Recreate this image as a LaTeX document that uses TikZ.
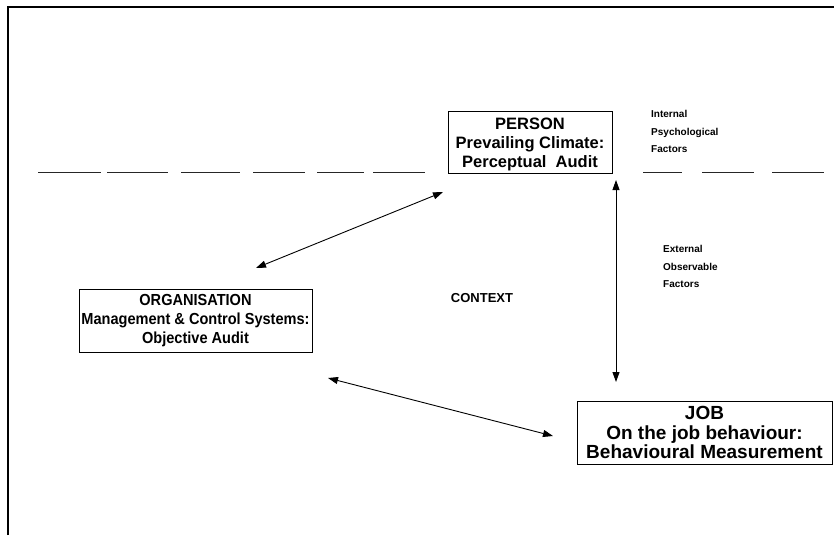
\documentclass[tikz,border=0pt]{standalone}
\usepackage{fontspec}
\setmainfont{Liberation Sans}
\usetikzlibrary{arrows.meta,shadows}
\newcommand{\lowerby}[2]{\raisebox{-#1}[\height][\depth]{#2}}
\begin{document}
\begin{tikzpicture}[x=1pt,y=-1pt,
  box/.style={draw,line width=0.9pt,fill=white,align=center,inner sep=0pt,
    drop shadow={shadow xshift=1.2pt,shadow yshift=-1.2pt,fill=black!35,opacity=1}},
  small/.style={font=\fontsize{10}{17.5}\selectfont\bfseries,align=left,anchor=north west,inner sep=0pt},
  dashseg/.style={line width=0.8pt,black!85},
  dbl/.style={line width=0.9pt,{Triangle[length=10pt,width=7pt]}-{Triangle[length=10pt,width=7pt]}},
  frame/.style={line width=1.5pt}]
\useasboundingbox (0,0) rectangle (834,535);
% frame
\coordinate (f1) at (8,535);
\coordinate (f2) at (8,7);
\coordinate (f3) at (834,7);
\draw[frame] (f1) -- (f2) -- (f3);
% dashed boundary
\foreach \a/\b in {38/101,107/168,181/240,253/305,317/364,373/425,643/682,702/754,772/824}
  \draw[dashseg] (\a,172) -- (\b,172);
% boxes
\node[box,minimum width=164pt,minimum height=62pt,font=\fontsize{16.5}{19}\selectfont\bfseries] (person) at (530,142)
  {\lowerby{3pt}{\begin{tabular}{@{}c@{}}PERSON\\Prevailing Climate:\\Perceptual\ \ Audit\end{tabular}}};
\node[box,minimum width=233pt,minimum height=63pt,font=\fontsize{16}{19}\selectfont\bfseries] (org) at (195.5,320.5)
  {\scalebox{0.91}[1]{\begin{tabular}{@{}c@{}}ORGANISATION\\Management \& Control Systems:\\Objective Audit\end{tabular}}};
\node[box,minimum width=255pt,minimum height=63pt,font=\fontsize{19}{19.3}\selectfont\bfseries] (job) at (704.5,432.5)
  {JOB\\On the job behaviour:\\Behavioural Measurement};
% labels
\node[small] (internal) at (651,110.5) {Internal\\Psychological\\Factors};
\node[small] (external) at (663,245.5) {External\\Observable\\Factors};
\node[font=\fontsize{13}{15}\selectfont\bfseries,inner sep=0pt] (context) at (482,298) {CONTEXT};
% arrows
\coordinate (po1) at (443,192);
\coordinate (po2) at (256,268);
\coordinate (oj1) at (328,378);
\coordinate (oj2) at (553,436);
\coordinate (pj1) at (616,180);
\coordinate (pj2) at (616,382);
\draw[dbl] (po2) -- (po1);
\draw[dbl] (oj1) -- (oj2);
\draw[dbl] (pj1) -- (pj2);
\end{tikzpicture}
\end{document}
